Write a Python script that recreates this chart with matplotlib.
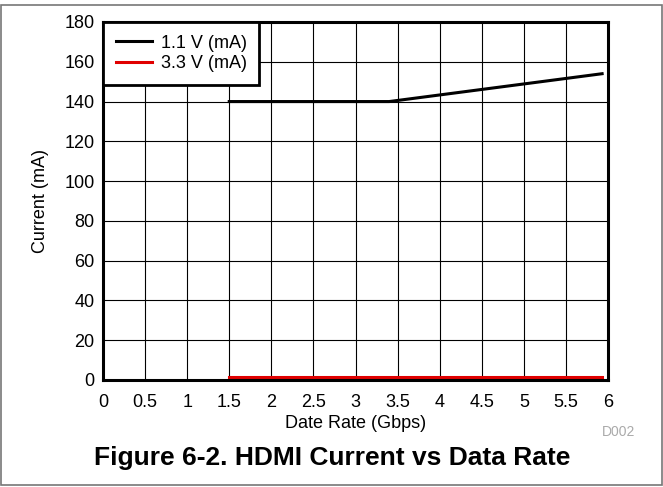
import numpy as np
import matplotlib
matplotlib.use("Agg")
from matplotlib import pyplot as plt
from matplotlib.patches import Rectangle

plt.rcParams['font.family'] = ['Liberation Sans', 'DejaVu Sans']

# data
rate_11 = [1.5, 3.4, 5.93]
current_11 = [140, 140, 154]
rate_33 = [1.5, 5.93]
current_33 = [1.3, 1.3]

x_ticks = [0, 0.5, 1, 1.5, 2, 2.5, 3, 3.5, 4, 4.5, 5, 5.5, 6]
x_labels = ["0", "0.5", "1", "1.5", "2", "2.5", "3", "3.5", "4", "4.5", "5", "5.5", "6"]
y_ticks = [0, 20, 40, 60, 80, 100, 120, 140, 160, 180]

fig = plt.figure(figsize=(6.63, 4.87), dpi=100)
ax = fig.add_axes([103 / 663, 1 - 380 / 487, 505 / 663, 358 / 487])

ax.plot(rate_11, current_11, color='black', lw=2.2, label='1.1 V (mA)')
ax.plot(rate_33, current_33, color='#e00000', lw=2.2, label='3.3 V (mA)')

ax.set_xlim(0, 6)
ax.set_ylim(0, 180)
ax.set_xticks(x_ticks)
ax.set_xticklabels(x_labels)
ax.set_yticks(y_ticks)
ax.tick_params(length=0, labelsize=13)
ax.tick_params(axis='x', pad=10)
ax.tick_params(axis='y', pad=6)
ax.grid(True, color='black', lw=0.8)
ax.set_axisbelow(True)
for s in ax.spines.values():
    s.set_linewidth(2.2)

ax.set_xlabel('Date Rate (Gbps)', fontsize=13, labelpad=3)
ax.set_ylabel('Current (mA)', fontsize=13, labelpad=11)

leg = ax.legend(loc='upper left', fontsize=13, frameon=True, fancybox=False,
                borderaxespad=0, handlelength=2.0, handletextpad=0.5,
                labelspacing=0.2, borderpad=0.7)
leg.get_frame().set_edgecolor('black')
leg.get_frame().set_linewidth(2)
leg.get_frame().set_alpha(1)

fig.text(619 / 663, 1 - 432 / 487, 'D002', color='#aaaaaa', fontsize=10, ha='center', va='center')
fig.text(332 / 663, 1 - 458 / 487, 'Figure 6-2. HDMI Current vs Data Rate',
         fontsize=19, fontweight='bold', ha='center', va='center')

# outer frame
fig.patches.append(Rectangle((0.5 / 663, 2 / 487), 661 / 663, 480.5 / 487,
                             transform=fig.transFigure, fill=False,
                             edgecolor='#777777', lw=1.2))

fig.savefig('out.png', dpi=100)
